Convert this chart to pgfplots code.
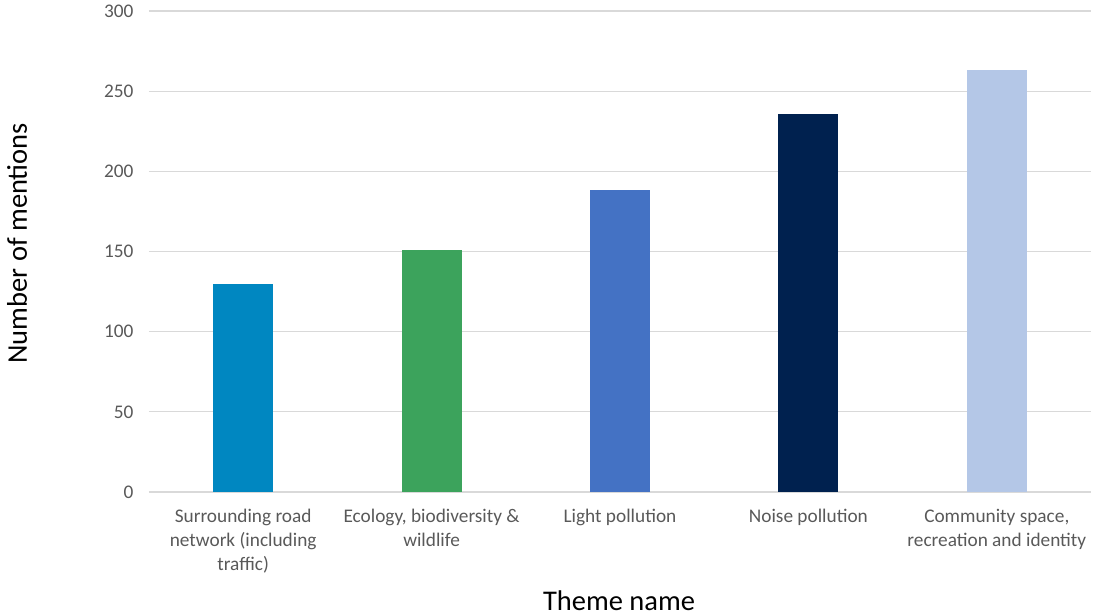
\documentclass[border=0pt]{standalone}
\usepackage{pgfplots}
\pgfplotsset{compat=1.18}
\usepackage{fontspec}
\setmainfont{Carlito}
\definecolor{c1}{HTML}{0087C1}
\definecolor{c2}{HTML}{3CA35C}
\definecolor{c3}{HTML}{4472C4}
\definecolor{c4}{HTML}{00214F}
\definecolor{c5}{HTML}{B4C7E7}
\definecolor{gridc}{HTML}{D9D9D9}
\definecolor{tickc}{HTML}{595959}
\begin{document}
\begin{tikzpicture}
\begin{axis}[
  at={(0,0)}, anchor=south west,
  scale only axis, width=942pt, height=481pt,
  xmin=-0.5, xmax=4.5, ymin=0, ymax=300,
  ytick={0,50,...,300},
  xtick={0,1,2,3,4},
  xticklabels={{Surrounding road\\network (including\\traffic)},{Ecology, biodiversity \&\\wildlife},{Light pollution},{Noise pollution},{Community space,\\recreation and identity}},
  axis line style={draw=none},
  major tick length=0pt,
  ymajorgrids, grid style={gridc, line width=1.3pt},
  yticklabel style={font=\fontsize{19.3}{24}\selectfont, text=tickc, anchor=east, xshift=-12pt},
  xticklabel style={font=\fontsize{19.3}{24}\selectfont, text=tickc, align=center, anchor=north, yshift=-14pt},
  /pgf/number format/assume math mode=true,
  ylabel={Number of mentions},
  xlabel={Theme name},
  ylabel style={font=\fontsize{28.5}{34}\selectfont, at={(axis description cs:-0.140,0.517)}, anchor=center, rotate=0},
  xlabel style={font=\fontsize{28.5}{34}\selectfont, at={(axis description cs:0.499,-0.226)}, anchor=center},
  ybar, bar width=60pt, bar shift=0pt,
]
\addplot[fill=c1, draw=none] coordinates {(0,130)};
\addplot[fill=c2, draw=none] coordinates {(1,151)};
\addplot[fill=c3, draw=none] coordinates {(2,188.5)};
\addplot[fill=c4, draw=none] coordinates {(3,236)};
\addplot[fill=c5, draw=none] coordinates {(4,263)};
\end{axis}
\pgfresetboundingbox
\path (-149pt,-124pt) rectangle (944pt,492pt);
\end{tikzpicture}
\end{document}
